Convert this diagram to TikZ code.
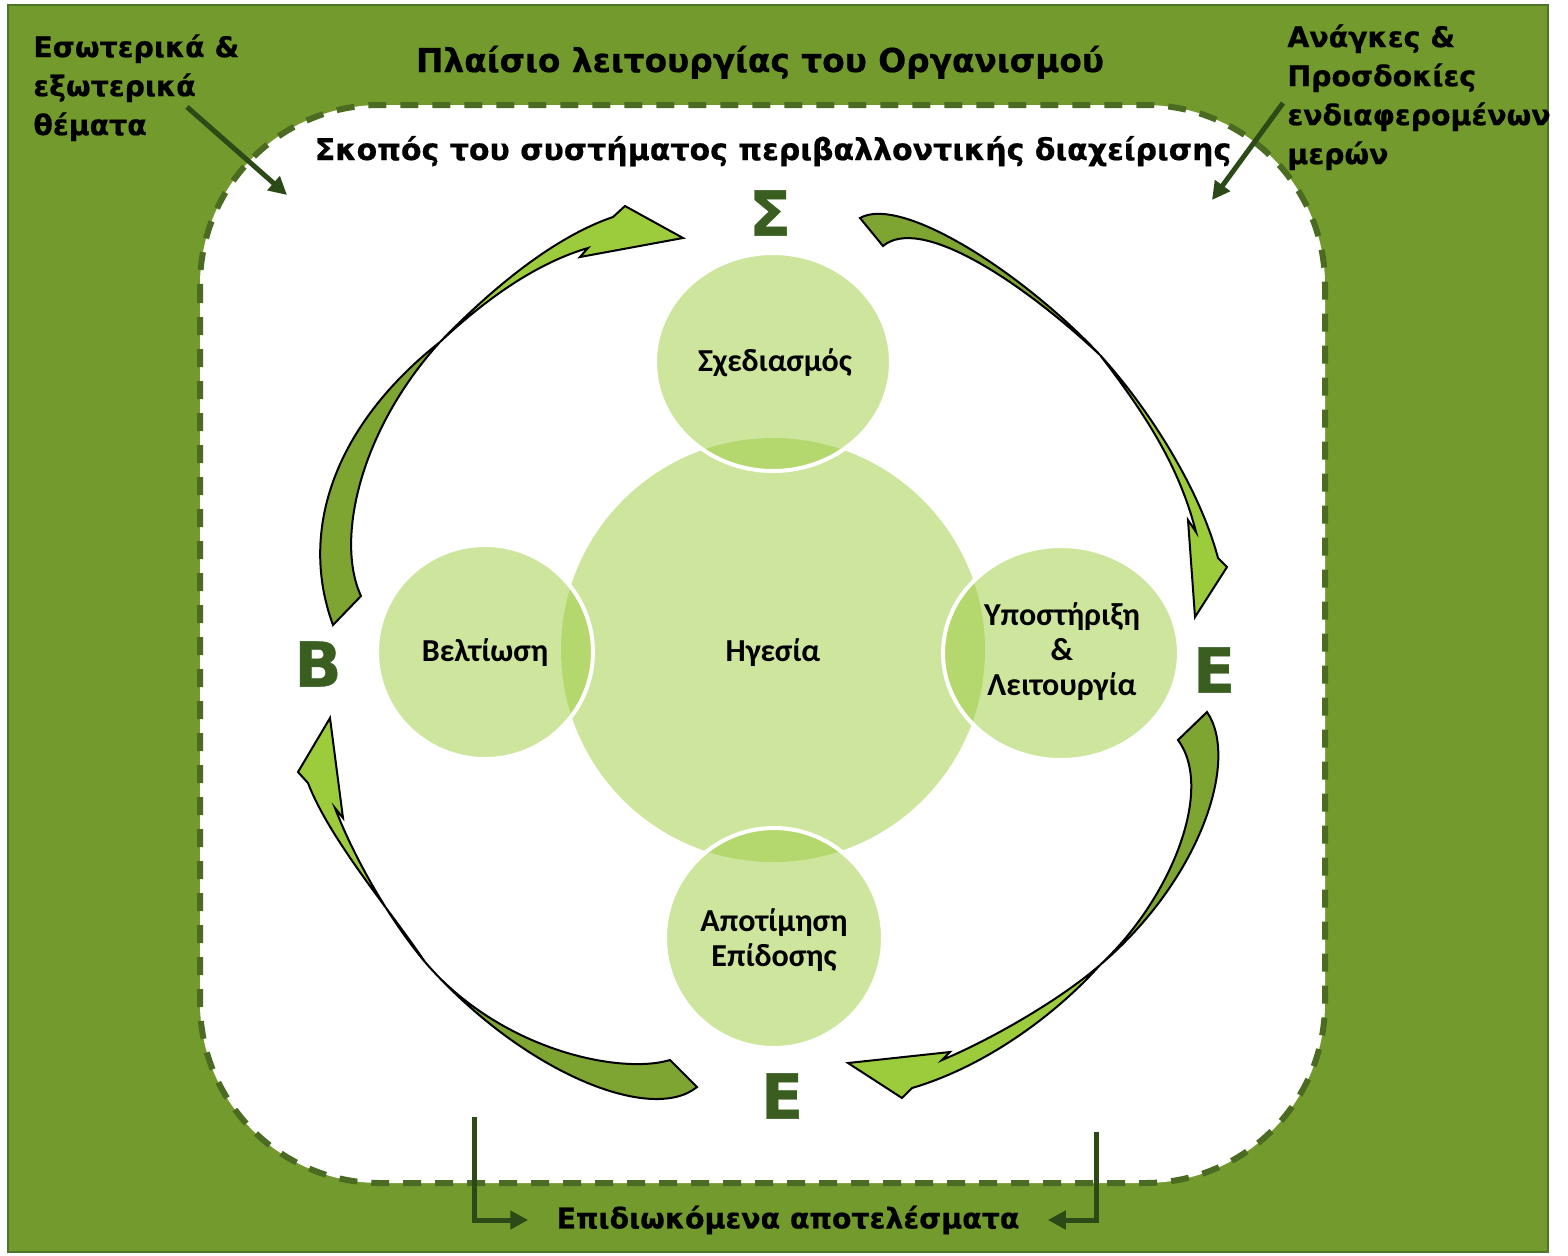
\documentclass[tikz,border=0pt]{standalone}
\usepackage{fontspec}
\setmainfont{DejaVu Sans}[BoldFeatures={FakeBold=0.6}]
\newfontfamily\circfont{Carlito}
\usetikzlibrary{arrows.meta}
\definecolor{framegreen}{HTML}{739A2C}
\definecolor{frameedge}{HTML}{4E7526}
\definecolor{dashgreen}{HTML}{4B6B22}
\definecolor{pointgreen}{HTML}{2B4A17}
\definecolor{lettergreen}{HTML}{3A5E1F}
\definecolor{circlight}{HTML}{CEE59E}
\definecolor{circlens}{HTML}{B4D86D}
\definecolor{tailolive}{HTML}{7EA432}
\definecolor{headlime}{HTML}{9CCC3C}
\tikzset{
  lbl/.style={font=\bfseries\fontsize{14.2}{19.5}\selectfont, inner sep=0pt},
  lettr/.style={font=\bfseries\fontsize{31}{31}\selectfont, text=lettergreen, inner sep=0pt},
  circtxt/.style={font=\circfont\bfseries\fontsize{16}{17.5}\selectfont, align=center, inner sep=0pt},
  pointer/.style={draw=pointgreen, line width=2.5pt, -{Triangle[length=9pt,width=9pt]}},
  tailpart/.style={fill=tailolive, draw=black, line width=1pt},
  headpart/.style={fill=headlime, draw=black, line width=1pt},
  ring/.style={draw=white, line width=2pt}
}
\begin{document}
\begin{tikzpicture}[x=0.5pt, y=-0.5pt]
\useasboundingbox (0,0) rectangle (1568,1255);
% frame
\draw[fill=framegreen, draw=frameedge, line width=1pt] (8,5) rectangle (1548,1252);
\draw[fill=white, draw=dashgreen, line width=3pt, dash pattern=on 9pt off 7pt, rounded corners=90pt] (200,105) rectangle (1325,1183);

\node[lbl, font=\bfseries\fontsize{16.4}{19.5}\selectfont, anchor=base] (frametitle) at (760,72) {Πλαίσιο λειτουργίας του Οργανισμού};
\node[lbl, font=\bfseries\fontsize{15}{19.5}\selectfont, anchor=base] (scope) at (773,160) {Σκοπός του συστήματος περιβαλλοντικής διαχείρισης};
\node[lbl, anchor=north west, align=left] (issues) at (33,34) {Εσωτερικά \&\\εξωτερικά\\θέματα};
\node[lbl, anchor=north west, align=left] (needs) at (1287,24) {Ανάγκες \&\\Προσδοκίες\\ενδιαφερομένων\\μερών};
\node[lbl, anchor=center, inner xsep=14pt] (res) at (788,1220) {Επιδιωκόμενα αποτελέσματα};

\coordinate (issuesfrom) at (187,107);
\coordinate (issuesto) at (287,195);
\coordinate (needsfrom) at (1283,103);
\coordinate (needsto) at (1212,200);
\coordinate (resL) at (474,1117);
\coordinate (resR) at (1096,1132);
\draw[pointer] (issuesfrom) -- (issuesto);
\draw[pointer] (needsfrom) -- (needsto);
\draw[pointer] (resL) |- (res.west);
\draw[pointer] (resR) |- (res.east);

% circles
\fill[circlight] (773,650) circle [radius=212];
\foreach \cx/\cy/\rx/\ry in {773/362/118/109, 1061/653/118/107, 774/938/109/110, 485/652/108/107} {
  \fill[circlight] (\cx,\cy) ellipse [x radius=\rx, y radius=\ry];
  \begin{scope}
    \clip (\cx,\cy) ellipse [x radius=\rx, y radius=\ry];
    \fill[circlens] (773,650) circle [radius=212];
  \end{scope}
  \draw[ring] (\cx,\cy) ellipse [x radius=\rx, y radius=\ry];
}
\node[circtxt] (lead) at (773,653) {Ηγεσία};
\node[circtxt] (plan) at (775,363) {Σχεδιασμός};
\node[circtxt] (support) at (1062,652) {Υποστήριξη\\\&\\Λειτουργία};
\node[circtxt] (perf) at (774,940) {Αποτίμηση\\Επίδοσης};
\node[circtxt] (improve) at (485,653) {Βελτίωση};

% curved arrows
\draw[tailpart] (333,625) .. controls (298,530) and (335,425) .. (440,342) .. controls (360,430) and (335,540) .. (361,596) -- cycle;
\draw[headpart] (440,342) .. controls (500,280) and (560,235) .. (613,217) -- (625,206) -- (683,238) -- (580,257) -- (588,248) .. controls (540,262) and (490,295) .. (440,342) -- cycle;

\draw[tailpart] (860,218) .. controls (900,195) and (1020,270) .. (1100,355) .. controls (1020,280) and (920,215) .. (883,246) -- cycle;
\draw[headpart] (1100,355) .. controls (1150,410) and (1200,490) .. (1218,558) -- (1227,567) -- (1195,617) -- (1188,520) -- (1196,532) .. controls (1180,470) and (1150,420) .. (1100,355) -- cycle;

\draw[tailpart] (1207,712) .. controls (1240,760) and (1200,880) .. (1100,965) .. controls (1170,900) and (1215,790) .. (1178,740) -- cycle;
\draw[headpart] (1100,965) .. controls (1060,1010) and (990,1065) .. (912,1088) -- (902,1098) -- (848,1063) -- (950,1052) -- (942,1060) .. controls (990,1040) and (1060,1000) .. (1100,965) -- cycle;

\draw[tailpart] (697,1087) .. controls (650,1125) and (520,1070) .. (425,962) .. controls (500,1050) and (620,1075) .. (670,1060) -- cycle;
\draw[headpart] (425,962) .. controls (390,910) and (330,840) .. (308,783) -- (298,772) -- (330,718) -- (343,818) -- (335,808) .. controls (355,860) and (390,920) .. (425,962) -- cycle;

% cycle letters
\node[lettr] (sletter) at (770,213) {Σ};
\node[lettr] (eright) at (1214,670) {Ε};
\node[lettr] (ebottom) at (782,1096) {Ε};
\node[lettr] (bletter) at (318,664) {Β};
\end{tikzpicture}
\end{document}
